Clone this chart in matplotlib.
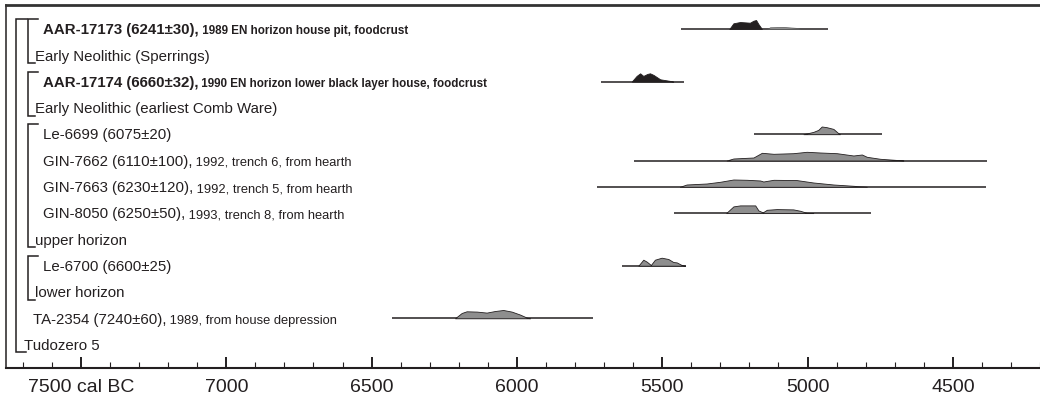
import matplotlib
matplotlib.use("Agg")
import matplotlib.pyplot as plt

plt.rcParams['font.family'] = ['Liberation Sans', 'DejaVu Sans']

INK = '#231f20'
GREY = '#8e8e8e'
ROW_PX = 26.3  # pixel height of one row, density heights are given in px

# tick labels along the calendar axis
major_years = [7500, 7000, 6500, 6000, 5500, 5000, 4500]
major_labels = ['7500 cal BC', '7000', '6500', '6000', '5500', '5000', '4500']
minor_years = list(range(7700, 4199, -100))

# row labels, top to bottom: (row, main text, note, bold, indent px)
rows = [
    (0, 'AAR-17173 (6241\u00b130),', ' 1989 EN horizon house pit, foodcrust', True, 43),
    (1, 'Early Neolithic (Sperrings)', '', False, 35),
    (2, 'AAR-17174 (6660\u00b132),', ' 1990 EN horizon lower black layer house, foodcrust', True, 43),
    (3, 'Early Neolithic (earliest Comb Ware)', '', False, 35),
    (4, 'Le-6699 (6075\u00b120)', '', False, 43),
    (5, 'GIN-7662 (6110\u00b1100),', ' 1992, trench 6, from hearth', False, 43),
    (6, 'GIN-7663 (6230\u00b1120),', ' 1992, trench 5, from hearth', False, 43),
    (7, 'GIN-8050 (6250\u00b150),', ' 1993, trench 8, from hearth', False, 43),
    (8, 'upper horizon', '', False, 35),
    (9, 'Le-6700 (6600\u00b125)', '', False, 43),
    (10, 'lower horizon', '', False, 35),
    (11, 'TA-2354 (7240\u00b160),', ' 1989, from house depression', False, 33),
    (12, 'Tudozero 5', '', False, 24),
]

# phase brackets: (first row, label row, x px)
phases = [(0, 1, 28), (2, 3, 28), (4, 8, 28), (9, 10, 28)]
sequence = (0, 12, 16)

# calibrated date ranges (cal BC) and probability outlines (year, height px)
aar17173_span = (5435, 4930)
aar17173_yr = [5269, 5255, 5232, 5198, 5186, 5177, 5169, 5161, 5157]
aar17173_h = [0, 5.7, 7.0, 6.3, 8.3, 9.0, 5.0, 1.7, 0]
aar17173_tail_yr = [5140, 5129, 5083, 5031, 5025]
aar17173_tail_h = [0, 1.7, 2.0, 1.0, 0]

aar17174_span = (5710, 5424)
aar17174_yr = [5605, 5588, 5576, 5565, 5551, 5542, 5530, 5507, 5473, 5462]
aar17174_h = [0, 5.7, 8.3, 5.7, 7.7, 8.3, 6.7, 2.3, 0.7, 0]

le6699_span = (5184, 4742)
le6699_yr = [5014, 4980, 4963, 4951, 4934, 4911, 4894, 4888]
le6699_h = [0, 2.3, 4.3, 7.7, 7.0, 5.3, 1.0, 0]

gin7662_span = (5597, 4381)
gin7662_yr = [5278, 5255, 5186, 5157, 5117, 5049, 5003, 4957, 4899, 4842, 4813,
              4796, 4750, 4681, 4670]
gin7662_h = [0, 2.0, 3.0, 7.7, 6.7, 7.3, 8.7, 8.0, 7.3, 5.0, 6.0, 3.7, 1.7, 0.3, 0]

gin7663_span = (5724, 4387)
gin7663_yr = [5439, 5416, 5347, 5301, 5255, 5209, 5163, 5152, 5117, 5037, 4980,
              4911, 4842, 4796]
gin7663_h = [0, 2.3, 3.3, 5.0, 7.3, 7.0, 6.3, 5.3, 7.0, 6.7, 4.3, 2.3, 1.0, 0]

gin8050_span = (5459, 4782)
gin8050_yr = [5280, 5255, 5232, 5180, 5169, 5154, 5140, 5106, 5049, 5025, 5003, 4980]
gin8050_h = [0, 6.7, 7.7, 7.7, 2.7, 0.7, 3.3, 4.0, 3.7, 2.3, 0.3, 0]

le6700_span = (5637, 5419)
le6700_yr = [5582, 5565, 5553, 5539, 5525, 5502, 5479, 5462, 5450, 5433, 5421]
le6700_h = [0, 6.0, 4.0, 0.7, 6.0, 8.0, 6.7, 3.7, 3.3, 0.7, 0]

ta2354_span = (6431, 5739)
ta2354_yr = [6213, 6190, 6173, 6138, 6104, 6075, 6047, 6018, 5989, 5966, 5955]
ta2354_h = [0, 5.3, 7.0, 6.7, 5.7, 7.3, 8.3, 6.7, 3.7, 0.7, 0]

dists = [
    (0, aar17173_span, aar17173_yr, aar17173_h, INK),
    (2, aar17174_span, aar17174_yr, aar17174_h, INK),
    (4, le6699_span, le6699_yr, le6699_h, GREY),
    (5, gin7662_span, gin7662_yr, gin7662_h, GREY),
    (6, gin7663_span, gin7663_yr, gin7663_h, GREY),
    (7, gin8050_span, gin8050_yr, gin8050_h, GREY),
    (9, le6700_span, le6700_yr, le6700_h, GREY),
    (11, ta2354_span, ta2354_yr, ta2354_h, GREY),
]

W, H = 1040, 397
fig = plt.figure(figsize=(W / 100, H / 100), dpi=100)
ax_left, ax_top, ax_bottom = 6, 5, 368.3
ax = fig.add_axes([ax_left / W, (H - ax_bottom) / H, (W - ax_left) / W,
                   (ax_bottom - ax_top) / H])
ax.set_xlim(7758, 4200)
ax.set_ylim((ax_bottom - 29) / ROW_PX, (ax_top - 29) / ROW_PX)


def px(x):
    # horizontal pixel position -> axes fraction
    return (x - ax_left) / (W - ax_left)


for row, span, yr, h, col in dists:
    ax.plot(span, [row, row], color=INK, lw=1.1, solid_capstyle='butt', zorder=2)
    top = [row - v / ROW_PX for v in h]
    ax.fill_between(yr, row, top, facecolor=col, edgecolor=INK, lw=0.6, zorder=3)

# lighter tail of the first date
tail_top = [0 - v / ROW_PX for v in aar17173_tail_h]
ax.fill_between(aar17173_tail_yr, 0, tail_top, facecolor=GREY, edgecolor='#555555',
                lw=0.5, zorder=3)

# labels
ytr = ax.get_yaxis_transform()
for row, main, note, bold, indent in rows:
    fw = 'bold' if bold else 'normal'
    t = ax.text(px(indent), row + 0.2, main, transform=ytr, fontsize=10.8,
                fontweight=fw, color=INK, va='baseline', ha='left')
    if note:
        ax.annotate(note, xy=(1, 0), xycoords=t, fontsize=8.4 if bold else 9.3,
                    fontweight=fw, color=INK, va='bottom', ha='left')


def bracket(first, last, x, serif_top, serif_bot):
    y0 = first - 0.38
    y1 = last + 0.3
    ax.plot([px(x + serif_top), px(x), px(x), px(x + serif_bot)], [y0, y0, y1, y1],
            transform=ytr, color=INK, lw=1.1, clip_on=False,
            solid_joinstyle='miter', zorder=4)


bracket(sequence[0], sequence[1], sequence[2], 11, 10)
for first, last, x in phases:
    bracket(first, last, x, 10, 7)

# frame and axis
ax.spines['right'].set_visible(False)
ax.spines['top'].set_linewidth(2.0)
ax.spines['top'].set_color('#333333')
ax.spines['left'].set_linewidth(1.1)
ax.spines['left'].set_color(INK)
ax.spines['bottom'].set_linewidth(1.5)
ax.spines['bottom'].set_color(INK)

ax.set_xticks(major_years, labels=major_labels)
ax.set_xticks(minor_years, minor=True)
ax.tick_params(axis='x', which='major', direction='in', length=8, width=1.4,
               pad=8, labelsize=14, colors=INK)
ax.tick_params(axis='x', which='minor', direction='in', length=4, width=0.8,
               colors=INK)
ax.set_yticks([])

fig.savefig('out.png', dpi=100)
